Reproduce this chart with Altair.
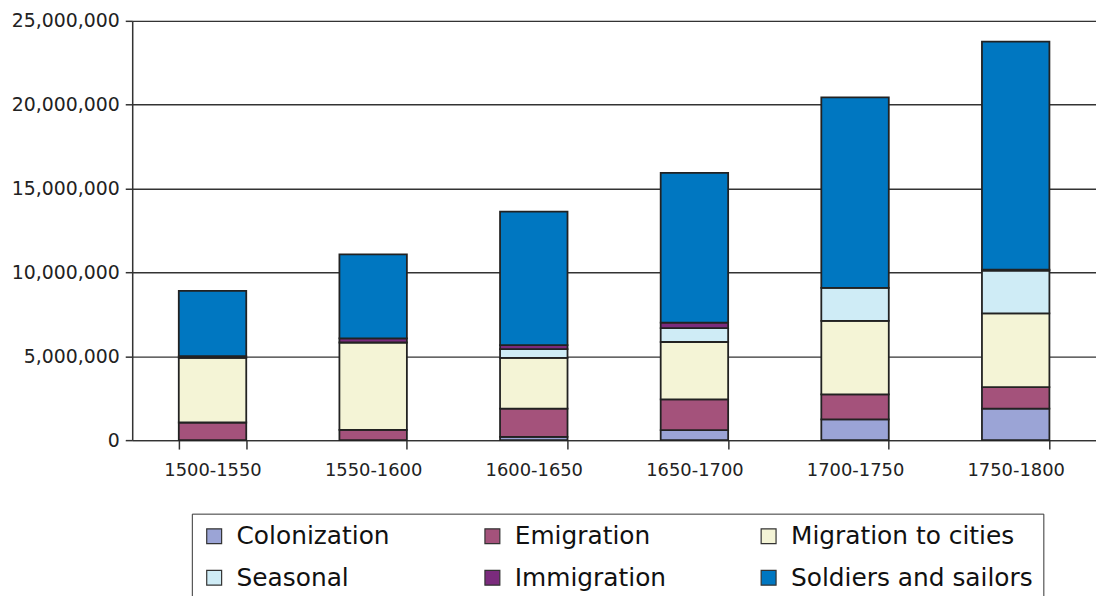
import altair as alt
import pandas as pd

categories = ["1500-1550", "1550-1600", "1600-1650", "1650-1700", "1700-1750", "1750-1800"]
series = ["Colonization", "Emigration", "Migration to cities", "Seasonal", "Immigration", "Soldiers and sailors"]
colonization = [0, 0, 200000, 600000, 1240000, 1880000]
emigration = [1050000, 610000, 1680000, 1830000, 1490000, 1280000]
migration = [3850000, 5210000, 3020000, 3420000, 4380000, 4400000]
seasonal = [0, 0, 530000, 830000, 1970000, 2550000]
immigration = [100000, 250000, 240000, 330000, 0, 50000]
soldiers = [3900000, 5000000, 7960000, 8930000, 11360000, 13600000]
colors = ["#9ba4d6", "#a4527b", "#f4f4d6", "#cfecf6", "#7b2b7d", "#0077c1"]

values = [colonization, emigration, migration, seasonal, immigration, soldiers]
rows = []
for si, (name, vals) in enumerate(zip(series, values)):
    for c, v in zip(categories, vals):
        if v > 0:
            rows.append({"period": c, "type": name, "value": v, "order": si})
df = pd.DataFrame(rows)

chart = alt.Chart(df).mark_bar(stroke="#222", strokeWidth=1.8).encode(
    x=alt.X("period:N", sort=categories, title=None,
            scale=alt.Scale(paddingInner=0.58, paddingOuter=0.29),
            axis=alt.Axis(labelAngle=0, tickBand="extent", tickSize=9, labelPadding=13,
                          labelFontSize=18, domainColor="#333", tickColor="#333",
                          domainWidth=1.5, tickWidth=1.5, grid=False)),
    y=alt.Y("value:Q", stack="zero", title=None,
            scale=alt.Scale(domain=[0, 25000000]),
            axis=alt.Axis(values=[0, 5000000, 10000000, 15000000, 20000000, 25000000],
                          format=",d", tickSize=7, labelPadding=6, labelFontSize=19,
                          grid=True, gridColor="#333", gridWidth=1.4,
                          domainColor="#333", tickColor="#333", domainWidth=1.5, tickWidth=1.5)),
    color=alt.Color("type:N", sort=series,
                    scale=alt.Scale(domain=series, range=colors),
                    legend=alt.Legend(title=None, orient="none", legendX=60, legendY=496,
                                      columns=3, direction="horizontal",
                                      symbolType="square", symbolSize=225,
                                      symbolStrokeColor="#333", symbolStrokeWidth=1.2,
                                      labelFontSize=25, labelColor="#111",
                                      columnPadding=90, rowPadding=16, padding=10,
                                      strokeColor="#333", labelLimit=400, symbolOffset=0,
                                      labelOffset=10)),
    order=alt.Order("order:Q", sort="ascending"),
).properties(
    width=970, height=422,
    autosize=alt.AutoSizeParams(type="none"),
    padding={"left": 125, "top": 11, "right": 0, "bottom": 160},
).configure_view(fill="#cbcbce", stroke=None).configure(
    font="DejaVu Sans"
).configure_axis(labelColor="#222", labelFont="DejaVu Sans").configure_legend(labelFont="DejaVu Sans")

chart.save("out.html", embed_options={"renderer": "svg", "actions": False})
